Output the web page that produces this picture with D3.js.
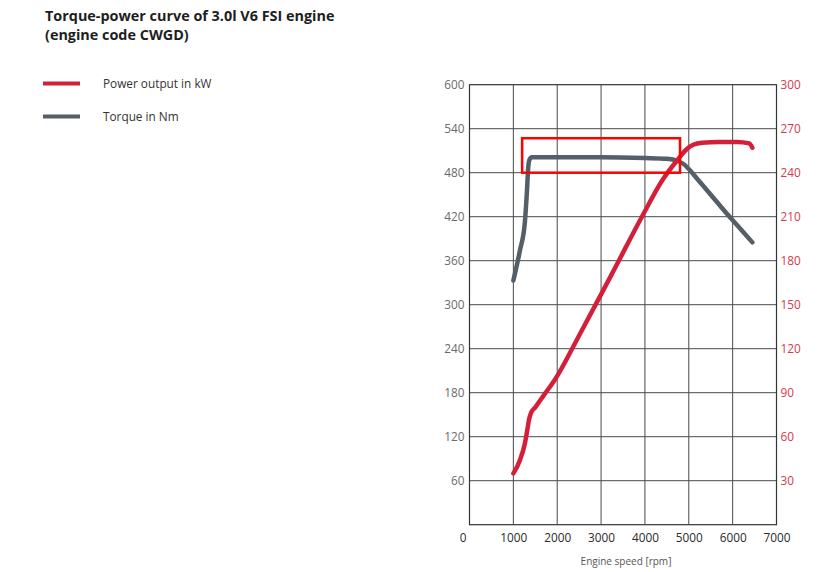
<!DOCTYPE html>
<html><head><meta charset="utf-8">
<script src="https://cdn.jsdelivr.net/npm/d3@7/dist/d3.min.js"></script>
<style>
body{margin:0;background:#fff;}
svg{display:block;font-family:"Open Sans",sans-serif;}
</style></head><body>
<svg id="c" width="825" height="572"></svg>
<script>
const titleLines = ["Torque-power curve of 3.0l V6 FSI engine", "(engine code CWGD)"];
const seriesNames = ["Power output in kW", "Torque in Nm"];
const xTicks = [0,1000,2000,3000,4000,5000,6000,7000];
const leftTicks = [60,120,180,240,300,360,420,480,540,600];
const rightTicks = [30,60,90,120,150,180,210,240,270,300];
const xTitle = "Engine speed [rpm]";
// Torque in Nm vs engine speed (rpm)
const torqueRpm = [1000,1150,1260,1310,1340,1370,1420,2000,3000,4000,4500,4750,4900,5000,5200,5400,5700,5900,6200,6450];
const torqueNm  = [333, 374, 411, 455, 488, 498, 501, 501, 501, 500, 499, 496, 491, 485, 471, 457, 436, 422, 402, 385];
// Power in kW vs engine speed (rpm)
const powerRpm = [1000,1150,1260,1320,1360,1400,1500,1700,1950,2500,3000,3300,3950,4400,4750,4950,5100,5300,5700,6100,6380,6450];
const powerKw  = [35,  44,  55,  65,  72,  76,  80,  88.5, 99, 129, 157, 174, 211, 235, 249, 256, 259, 260.5, 261, 261, 260, 257];

const RED = "#d41f3b", GRAY = "#555f68";
const svg = d3.select("#c");
const L = 469.5, R = 776.5, T = 84.7, B = 524.7;
const x = d3.scaleLinear().domain([0,7000]).range([L,R]);
const yL = d3.scaleLinear().domain([0,600]).range([B,T]);
const yR = d3.scaleLinear().domain([0,300]).range([B,T]);

// title
svg.append("g").selectAll("text").data(titleLines).join("text")
  .attr("x",45).attr("y",(d,i)=>21+i*19)
  .attr("font-size",14.4).attr("font-weight",700).attr("fill","#1e1e1e").text(d=>d);

// legend
const leg = svg.append("g");
[RED,GRAY].forEach((c,i)=>{
  leg.append("line").attr("x1",43).attr("x2",80).attr("y1",83.5+i*33).attr("y2",83.5+i*33)
    .attr("stroke",c).attr("stroke-width",4);
  leg.append("text").attr("x",103).attr("y",83.5+i*33).attr("dy","0.35em")
    .attr("font-size",11.8).attr("fill","#333").text(seriesNames[i]);
});

// grid
const grid = svg.append("g").attr("stroke","#4a4a4a").attr("stroke-width",1);
grid.selectAll(".v").data(xTicks.slice(1,-1)).join("line")
  .attr("x1",d=>x(d)).attr("x2",d=>x(d)).attr("y1",T).attr("y2",B);
grid.selectAll(".h").data(leftTicks.slice(0,-1)).join("line")
  .attr("x1",L).attr("x2",R).attr("y1",d=>yL(d)).attr("y2",d=>yL(d));
svg.append("rect").attr("x",L).attr("y",T).attr("width",R-L).attr("height",B-T)
  .attr("fill","none").attr("stroke","#333").attr("stroke-width",1.2);

// axes
const ax = (g)=>{ g.select(".domain").remove(); g.selectAll("text").attr("font-family","'Open Sans',sans-serif").attr("font-size",11.8); };
svg.append("g").attr("transform",`translate(${L},0)`)
  .call(d3.axisLeft(yL).tickValues(leftTicks).tickSize(0).tickPadding(5))
  .call(ax).call(g=>g.selectAll("text").attr("fill","#6a6a6a"));
svg.append("g").attr("transform",`translate(${R},0)`)
  .call(d3.axisRight(yR).tickValues(rightTicks).tickSize(0).tickPadding(4))
  .call(ax).call(g=>g.selectAll("text").attr("fill","#d43a4c"));
svg.append("g").attr("transform",`translate(0,${B})`)
  .call(d3.axisBottom(x).tickValues(xTicks).tickSize(0).tickPadding(8.5).tickFormat(d3.format("d")))
  .call(ax).call(g=>{g.selectAll("text").attr("fill","#2a2a2a");
     g.selectAll(".tick").filter(d=>d===0).select("text").attr("dx",-7);});
svg.append("text").attr("x",626).attr("y",561).attr("dy","0.35em").attr("text-anchor","middle")
  .attr("font-size",10).attr("fill","#555").text(xTitle);

// curves
const lineT = d3.line().x(d=>x(d[0])).y(d=>yL(d[1])).curve(d3.curveMonotoneX);
const lineP = d3.line().x(d=>x(d[0])).y(d=>yR(d[1])).curve(d3.curveMonotoneX);
svg.append("path").datum(torqueRpm.map((r,i)=>[r,torqueNm[i]])).attr("d",lineT)
  .attr("fill","none").attr("stroke",GRAY).attr("stroke-width",4.5).attr("stroke-linecap","round").attr("stroke-linejoin","round");
svg.append("path").datum(powerRpm.map((r,i)=>[r,powerKw[i]])).attr("d",lineP)
  .attr("fill","none").attr("stroke",RED).attr("stroke-width",4.5).attr("stroke-linecap","round").attr("stroke-linejoin","round");

// annotation box (highlight of torque plateau)
svg.append("rect").attr("x",x(1200)).attr("y",yL(527)).attr("width",x(4800)-x(1200)).attr("height",yL(480)-yL(527))
  .attr("fill","none").attr("stroke","#ff0000").attr("stroke-width",2.5);
</script></body></html>
